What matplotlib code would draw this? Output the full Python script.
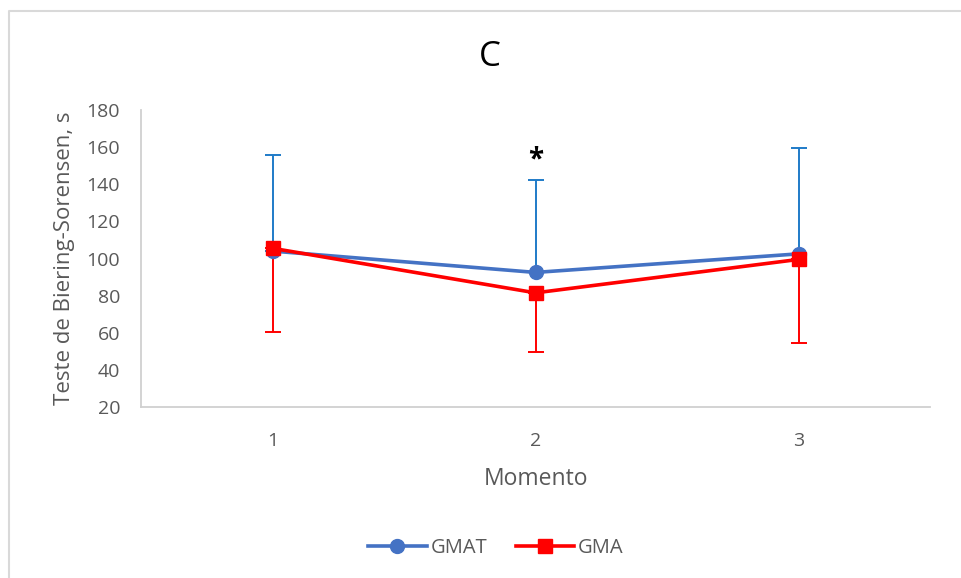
import matplotlib
matplotlib.use("Agg")
import matplotlib.pyplot as plt
from matplotlib.lines import Line2D

plt.rcParams['font.family'] = ['Open Sans', 'DejaVu Sans']

categories = [1, 2, 3]
tick_labels = ["1", "2", "3"]
gmat_mean = [104, 92.5, 102.5]
gmat_sd = [52, 50, 57]
gma_mean = [105.5, 81.5, 99.5]
gma_sd = [45, 32, 45]
yticks = [20, 40, 60, 80, 100, 120, 140, 160, 180]

blue_line = "#4472C4"
blue_err = "#1F7BC8"
red = "#FF0000"
grey_txt = "#595959"

fig = plt.figure(figsize=(9.61, 5.78), dpi=100)
ax = fig.add_axes([141/961, 1-407/578, (930-141)/961, (407-110)/578])

ax.errorbar(categories, gmat_mean, yerr=[[0]*3, gmat_sd], fmt='none',
            ecolor=blue_err, elinewidth=1.4, capsize=6, capthick=1.4, zorder=2)
ax.errorbar(categories, gma_mean, yerr=[gma_sd, [0]*3], fmt='none',
            ecolor=red, elinewidth=1.4, capsize=6, capthick=1.4, zorder=2)
ax.plot(categories, gmat_mean, color=blue_line, lw=2.6, marker='o', ms=10,
        label="GMAT", zorder=3)
ax.plot(categories, gma_mean, color=red, lw=2.6, marker='s', ms=10,
        label="GMA", zorder=4)

ax.text(2, 153, "*", ha='center', va='center', fontsize=20, fontweight='bold',
        color='black')

ax.set_xlim(0.5, 3.5)
ax.set_ylim(20, 180)
ax.set_yticks(yticks)
ax.set_xticks(categories)
ax.set_xticklabels(tick_labels)
ax.tick_params(axis='both', length=0, labelsize=14, colors=grey_txt)
ax.tick_params(axis='y', pad=15)
ax.tick_params(axis='x', pad=18)
for s in ['top', 'right']:
    ax.spines[s].set_visible(False)
for s in ['left', 'bottom']:
    ax.spines[s].set_color('#D0D0D0')
    ax.spines[s].set_linewidth(1.3)

ax.set_xlabel("Momento", fontsize=16.5, color=grey_txt, labelpad=12)
ax.set_ylabel("Teste de Biering-Sorensen, s", fontsize=16, color=grey_txt, labelpad=8)

fig.text(490/961, 1-57/578, "C", ha='center', va='center', fontsize=25, color='black')

leg = fig.legend(loc='center', bbox_to_anchor=(496/961, 1-548/578), ncol=2,
                 frameon=False, fontsize=14.5, handlelength=2.9, columnspacing=1.4,
                 handletextpad=0.2)
for t in leg.get_texts():
    t.set_color(grey_txt)

fig.add_artist(Line2D([9/961, 9/961, 1.0], [0.0, 1-11/578, 1-11/578],
                      transform=fig.transFigure, color='#D9D9D9', lw=1.5))

fig.savefig("out.png", dpi=100)
